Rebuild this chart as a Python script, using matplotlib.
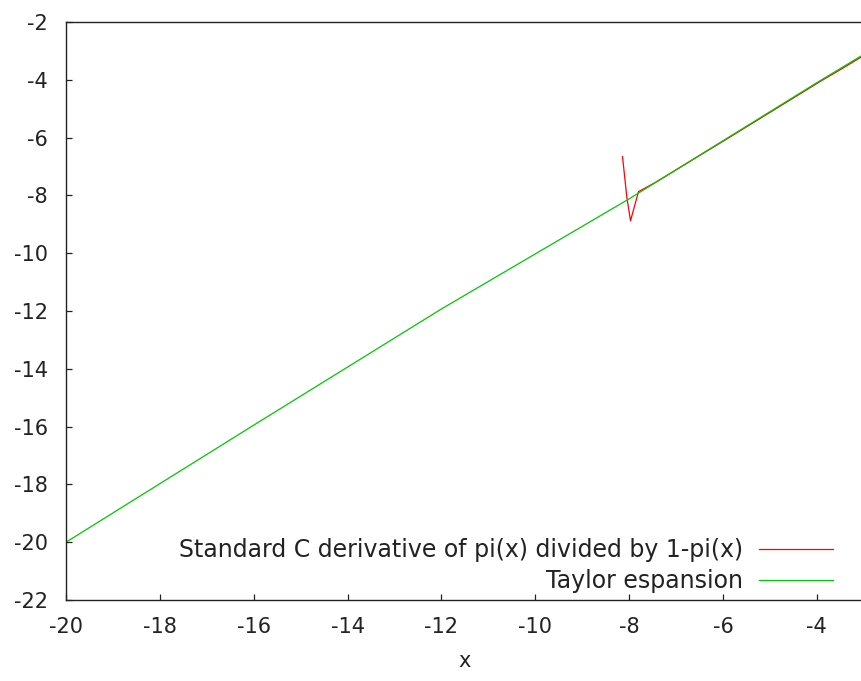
import matplotlib
matplotlib.use("Agg")
import matplotlib.pyplot as plt

# Data
taylor_x = [-20.0, -16.0, -12.0, -8.0, -4.0, -3.0]
taylor_y = [-20.0, -15.95, -11.93, -8.12, -4.1, -3.12]

deriv_x = [-8.14, -8.05, -7.97, -7.80, -7.47, -6.0, -4.3, -4.05, -3.9, -3.5, -3.0]
deriv_y = [-6.66, -8.04, -8.88, -7.87, -7.58, -6.13, -4.43, -4.18, -4.03, -3.65, -3.16]

xticks = [-20, -18, -16, -14, -12, -10, -8, -6, -4]
yticks = [-22, -20, -18, -16, -14, -12, -10, -8, -6, -4, -2]

plt.rcParams['font.family'] = ['DejaVu Sans']
fig = plt.figure(figsize=(8.62, 6.81), dpi=100)
ax = fig.add_axes([66/862, 1-600/681, 1-66/862 + 0.002, (600-22)/681])

ax.plot(deriv_x, deriv_y, color='#ff0000', lw=0.9,
        label='Standard C derivative of pi(x) divided by 1-pi(x)')
ax.plot(taylor_x, taylor_y, color='#00c800', lw=0.9, label='Taylor espansion')

ax.set_xlim(-20, -3.0)
ax.set_ylim(-22, -2)
ax.set_xticks(xticks)
ax.set_yticks(yticks)
ax.set_xticklabels([str(t) for t in xticks])
ax.set_yticklabels([str(t) for t in yticks])
ax.tick_params(direction='in', length=4.5, width=0.9, labelsize=15,
               colors='#222222', pad=12, top=False, right=False)
ax.tick_params(axis='y', pad=13)
for s in ax.spines.values():
    s.set_color('#222222')
    s.set_linewidth(1.0)
ax.spines['right'].set_visible(False)

ax.set_xlabel('x', fontsize=15, color='#222222', labelpad=10)

leg = ax.legend(loc='lower right', frameon=False, markerfirst=False,
                fontsize=17, handlelength=3.1, handletextpad=0.7,
                labelspacing=0.28, borderaxespad=0.0, borderpad=0.0,
                bbox_to_anchor=(0.961, 0.012))
for t in leg.get_texts():
    t.set_color('#222222')

fig.savefig('out.png', dpi=100)
